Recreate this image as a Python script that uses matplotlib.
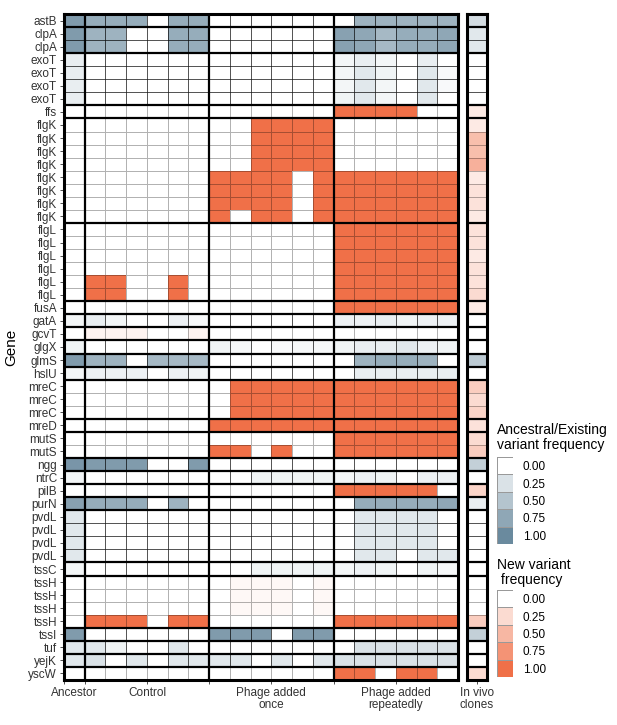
import numpy as np
import matplotlib
matplotlib.use("Agg")
import matplotlib.pyplot as plt
from matplotlib.colors import LinearSegmentedColormap

plt.rcParams['font.family'] = ['Liberation Sans', 'DejaVu Sans']

# genes (one row per variant) and whether the variant was ancestral/existing or new
genes = ['astB', 'clpA', 'clpA', 'exoT', 'exoT', 'exoT', 'exoT', 'ffs',
         'flgK', 'flgK', 'flgK', 'flgK', 'flgK', 'flgK', 'flgK', 'flgK',
         'flgL', 'flgL', 'flgL', 'flgL', 'flgL', 'flgL', 'fusA', 'gatA',
         'gcvT', 'glgX', 'glmS', 'hslU', 'mreC', 'mreC', 'mreC', 'mreD',
         'mutS', 'mutS', 'ngg', 'ntrC', 'pilB', 'purN', 'pvdL', 'pvdL',
         'pvdL', 'pvdL', 'tssC', 'tssH', 'tssH', 'tssH', 'tssH', 'tssI',
         'tuf', 'yejK', 'yscW']
kind = ['E', 'E', 'E', 'E', 'E', 'E', 'E', 'N',
        'N', 'N', 'N', 'N', 'N', 'N', 'N', 'N',
        'N', 'N', 'N', 'N', 'N', 'N', 'N', 'E',
        'N', 'E', 'E', 'E', 'N', 'N', 'N', 'N',
        'N', 'N', 'E', 'E', 'N', 'E', 'E', 'E',
        'E', 'E', 'E', 'N', 'N', 'N', 'N', 'E',
        'E', 'E', 'N']

# columns: Ancestor | Control x6 | Phage added once x6 | Phage added repeatedly x6
freq = [
    [0.85, 0.7, 0.7, 0.7, 0, 0.7, 0.7, 0, 0, 0, 0, 0, 0, 0, 0.65, 0.65, 0.65, 0.65, 0.65],
    [0.85, 0.65, 0.65, 0, 0, 0.7, 0.7, 0, 0, 0, 0, 0, 0, 0.8, 0.75, 0.6, 0.7, 0.7, 0.75],
    [0.85, 0.65, 0.65, 0, 0, 0.7, 0.7, 0, 0, 0, 0, 0, 0, 0.8, 0.75, 0.6, 0.7, 0.7, 0.75],
    [0.15, 0, 0, 0, 0, 0, 0, 0, 0, 0, 0, 0, 0, 0.08, 0.15, 0.08, 0, 0.15, 0],
    [0.15, 0, 0, 0, 0, 0, 0, 0, 0, 0, 0, 0, 0, 0.08, 0.2, 0.1, 0, 0.2, 0.05],
    [0.15, 0, 0, 0, 0, 0, 0, 0, 0, 0, 0, 0, 0, 0.08, 0.2, 0.08, 0, 0.2, 0.05],
    [0.15, 0, 0, 0, 0, 0, 0, 0, 0, 0, 0, 0, 0, 0.1, 0.2, 0.08, 0, 0.2, 0],
    [0, 0, 0, 0, 0, 0, 0, 0, 0, 0, 0, 0, 0, 1, 1, 1, 1, 0, 0],
    [0, 0, 0, 0, 0, 0, 0, 0, 0, 1, 1, 1, 1, 0, 0, 0, 0, 0, 0],
    [0, 0, 0, 0, 0, 0, 0, 0, 0, 1, 1, 1, 1, 0, 0, 0, 0, 0, 0],
    [0, 0, 0, 0, 0, 0, 0, 0, 0, 1, 1, 1, 1, 0, 0, 0, 0, 0, 0],
    [0, 0, 0, 0, 0, 0, 0, 0, 0, 1, 1, 1, 1, 0, 0, 0, 0, 0, 0],
    [0, 0, 0, 0, 0, 0, 0, 1, 1, 1, 1, 0, 1, 1, 1, 1, 1, 1, 1],
    [0, 0, 0, 0, 0, 0, 0, 1, 1, 1, 1, 0, 1, 1, 1, 1, 1, 1, 1],
    [0, 0, 0, 0, 0, 0, 0, 1, 1, 1, 1, 0, 1, 1, 1, 1, 1, 1, 1],
    [0, 0, 0, 0, 0, 0, 0, 1, 0, 1, 1, 0, 1, 1, 1, 1, 1, 1, 1],
    [0, 0, 0, 0, 0, 0, 0, 0, 0, 0, 0, 0, 0, 1, 1, 1, 1, 1, 1],
    [0, 0, 0, 0, 0, 0, 0, 0, 0, 0, 0, 0, 0, 1, 1, 1, 1, 1, 1],
    [0, 0, 0, 0, 0, 0, 0, 0, 0, 0, 0, 0, 0, 1, 1, 1, 1, 1, 1],
    [0, 0, 0, 0, 0, 0, 0, 0, 0, 0, 0, 0, 0, 1, 1, 1, 1, 1, 1],
    [0, 1, 1, 0, 0, 1, 0, 0, 0, 0, 0, 0, 0, 1, 1, 1, 1, 1, 1],
    [0, 1, 1, 0, 0, 1, 0, 0, 0, 0, 0, 0, 0, 1, 1, 1, 1, 1, 1],
    [0, 0, 0, 0, 0, 0, 0, 0, 0, 0, 0, 0, 0, 1, 1, 1, 1, 1, 1],
    [0.08, 0.15, 0.08, 0, 0, 0.12, 0.05, 0, 0, 0, 0, 0, 0, 0.12, 0.12, 0.15, 0.1, 0.12, 0.12],
    [0, 0.08, 0.08, 0.08, 0, 0, 0.08, 0, 0, 0, 0, 0, 0, 0, 0, 0, 0, 0, 0],
    [0.1, 0, 0, 0, 0, 0, 0, 0.1, 0.06, 0, 0.04, 0.06, 0.06, 0.1, 0.15, 0.15, 0.2, 0.12, 0.1],
    [0.85, 0.65, 0.65, 0, 0.6, 0.6, 0.6, 0, 0, 0, 0, 0, 0, 0, 0.65, 0.7, 0.7, 0.65, 0],
    [0.08, 0.12, 0.12, 0.12, 0, 0.12, 0.1, 0, 0, 0, 0, 0, 0, 0, 0.15, 0.15, 0.15, 0.15, 0.15],
    [0, 0, 0, 0, 0, 0, 0, 0, 1, 1, 1, 1, 1, 1, 1, 1, 1, 1, 1],
    [0, 0, 0, 0, 0, 0, 0, 0, 1, 1, 1, 1, 1, 1, 1, 1, 1, 1, 1],
    [0, 0, 0, 0, 0, 0, 0, 0, 1, 1, 1, 1, 1, 1, 1, 1, 1, 1, 1],
    [0, 0, 0, 0, 0, 0, 0, 1, 1, 1, 1, 1, 1, 1, 1, 1, 1, 1, 1],
    [0, 0, 0, 0, 0, 0, 0, 0, 0, 0, 0, 0, 0, 1, 1, 1, 1, 1, 1],
    [0, 0, 0, 0, 0, 0, 0, 1, 1, 0, 1, 0, 0, 1, 1, 1, 1, 1, 1],
    [0.9, 0.85, 0.85, 0.85, 0, 0, 0.85, 0, 0, 0, 0, 0, 0, 0, 0, 0, 0, 0, 0],
    [0.08, 0, 0, 0, 0, 0, 0, 0, 0, 0.1, 0.1, 0.1, 0.1, 0.08, 0.12, 0.1, 0, 0.12, 0.12],
    [0, 0, 0, 0, 0, 0, 0, 0, 0, 0, 0, 0, 0, 1, 1, 1, 1, 1, 0],
    [0.8, 0.7, 0.7, 0.7, 0, 0.65, 0, 0, 0, 0, 0, 0, 0, 0, 0.7, 0.7, 0.7, 0.7, 0.75],
    [0.2, 0, 0, 0, 0, 0, 0, 0, 0, 0, 0, 0, 0, 0, 0.2, 0.2, 0.2, 0.2, 0],
    [0.2, 0, 0, 0, 0, 0, 0, 0, 0, 0, 0, 0, 0, 0, 0.2, 0.2, 0.2, 0.2, 0],
    [0.2, 0, 0, 0, 0, 0, 0, 0, 0, 0, 0, 0, 0, 0, 0.2, 0.2, 0.2, 0.2, 0],
    [0.2, 0, 0, 0, 0, 0, 0, 0, 0, 0, 0, 0, 0, 0, 0.2, 0.2, 0, 0.2, 0.2],
    [0.08, 0, 0, 0, 0, 0, 0, 0, 0, 0.1, 0.1, 0.1, 0.1, 0.08, 0.12, 0.1, 0, 0.1, 0.06],
    [0, 0, 0, 0, 0, 0, 0, 0, 0.05, 0.05, 0.05, 0, 0.05, 0, 0, 0, 0, 0, 0],
    [0, 0, 0, 0, 0, 0, 0, 0, 0.05, 0.05, 0.05, 0, 0.05, 0, 0, 0, 0, 0, 0],
    [0, 0, 0, 0, 0, 0, 0, 0, 0.05, 0.05, 0.05, 0, 0.05, 0, 0, 0, 0, 0, 0],
    [0, 1, 1, 1, 0, 1, 1, 0, 0, 0, 0, 0, 0, 1, 1, 1, 1, 1, 1],
    [0.85, 0, 0, 0, 0, 0, 0, 0.85, 0.85, 0.85, 0, 0.85, 0.85, 0, 0, 0, 0, 0, 0],
    [0.2, 0.2, 0.1, 0, 0, 0.2, 0, 0, 0, 0, 0, 0, 0, 0, 0.25, 0.25, 0.25, 0.25, 0.25],
    [0.2, 0.25, 0, 0.2, 0, 0.2, 0.2, 0.2, 0.2, 0, 0.2, 0, 0.2, 0.25, 0.25, 0.25, 0.25, 0.25, 0.25],
    [0, 0, 0, 0, 0, 0, 0, 0, 0, 0, 0, 0, 0, 1, 1, 0, 1, 1, 0],
]
in_vivo = [0.3, 0.2, 0.2, 0, 0, 0, 0, 0.15,
           0.15, 0.45, 0.45, 0.55, 0.15, 0.2, 0.2, 0.15,
           0.2, 0.2, 0.15, 0.2, 0.2, 0.25, 0.15, 0,
           0, 0, 0.45, 0, 0.35, 0.25, 0.3, 0.2,
           0.25, 0.35, 0.4, 0, 0.3, 0.15, 0, 0,
           0, 0, 0, 0, 0, 0, 0.35, 0.4,
           0, 0, 0.25]

group_labels = ['Control', 'Phage added\nonce', 'Phage added\nrepeatedly']
legend_levels = [0.0, 0.25, 0.5, 0.75, 1.0]

cmap_e = LinearSegmentedColormap.from_list('existing', ['#ffffff', '#6a8a9e'])
cmap_n = LinearSegmentedColormap.from_list('new', ['#ffffff', '#f07048'])

F = np.array(freq, dtype=float)
V = np.array(in_vivo, dtype=float).reshape(-1, 1)
is_new = np.array([k == 'N' for k in kind])
nrow, ncol = F.shape

fig = plt.figure(figsize=(6.17, 7.25), dpi=100)
W, H = 617, 725
bot = 1 - 680 / H
hgt = (680 - 14) / H
ax = fig.add_axes([64 / W, bot, (458 - 64) / W, hgt])
axv = fig.add_axes([467 / W, bot, 20 / W, hgt])

grid_kw = dict(edgecolors=(0, 0, 0, 0.3), linewidth=0.5)


def draw_cells(a, M):
    mask_new = np.repeat(~is_new[:, None], M.shape[1], axis=1)
    a.pcolormesh(np.ma.array(M, mask=~mask_new), cmap=cmap_e, vmin=0, vmax=1, **grid_kw)
    a.pcolormesh(np.ma.array(M, mask=mask_new), cmap=cmap_n, vmin=0, vmax=1, **grid_kw)
    a.set_ylim(nrow, 0)
    # thick lines between genes
    for i in range(1, nrow):
        if genes[i] != genes[i - 1]:
            a.axhline(i, color='black', lw=1.6)
    for s in a.spines.values():
        s.set_linewidth(2.2)


draw_cells(ax, F)
draw_cells(axv, V)
ax.set_xlim(0, ncol)
axv.set_xlim(0, 1)
for xv in [1, 7, 13]:
    ax.axvline(xv, color='black', lw=1.6)

tick_col = '#333333'
ax.set_yticks(np.arange(nrow) + 0.5)
ax.set_yticklabels(genes, fontsize=8.5, color=tick_col)
ax.tick_params(axis='both', length=3, width=0.6, color=tick_col, pad=2)
ax.set_xticks([0, 1, 4, 7, 10, 13, 16])
ax.set_xticklabels(['', '', group_labels[0], '', group_labels[1], '', group_labels[2]],
                   fontsize=8.5, color=tick_col, linespacing=1.0)
ax.set_xticks([0.5], minor=True)
ax.set_xticklabels(['Ancestor'], minor=True, fontsize=8.5, color=tick_col)
ax.tick_params(axis='x', which='minor', length=0, pad=5)
ax.set_ylabel('Gene', fontsize=11)
ax.yaxis.set_label_coords(-0.117, 0.5)

axv.set_yticks([])
axv.set_xticks([0.5])
axv.set_xticklabels(['In vivo\nclones'], fontsize=8.5, color=tick_col, linespacing=1.0)
axv.tick_params(axis='x', length=3, width=0.6, color=tick_col, pad=2)

# legends
def draw_legend(top_px, cmap, title, title_px):
    lax = fig.add_axes([497 / W, 1 - (top_px + 87) / H, 16 / W, 87 / H])
    lv = np.array(legend_levels).reshape(-1, 1)
    lax.pcolormesh(lv, cmap=cmap, vmin=0, vmax=1, edgecolors='#999999', linewidth=0.5)
    lax.set_ylim(len(legend_levels), 0)
    lax.set_xticks([])
    lax.yaxis.tick_right()
    lax.set_yticks(np.arange(len(legend_levels)) + 0.5)
    lax.set_yticklabels(['%.2f' % v for v in legend_levels], fontsize=8.5)
    lax.tick_params(axis='y', length=0, pad=7)
    for s in lax.spines.values():
        s.set_visible(False)
    fig.text(497 / W, 1 - title_px / H, title, fontsize=10, va='bottom', ha='left',
             linespacing=1.05)


draw_legend(457, cmap_e, 'Ancestral/Existing\nvariant frequency', 452)
draw_legend(590, cmap_n, 'New variant\n frequency', 587)

fig.savefig('out.png', dpi=100)
